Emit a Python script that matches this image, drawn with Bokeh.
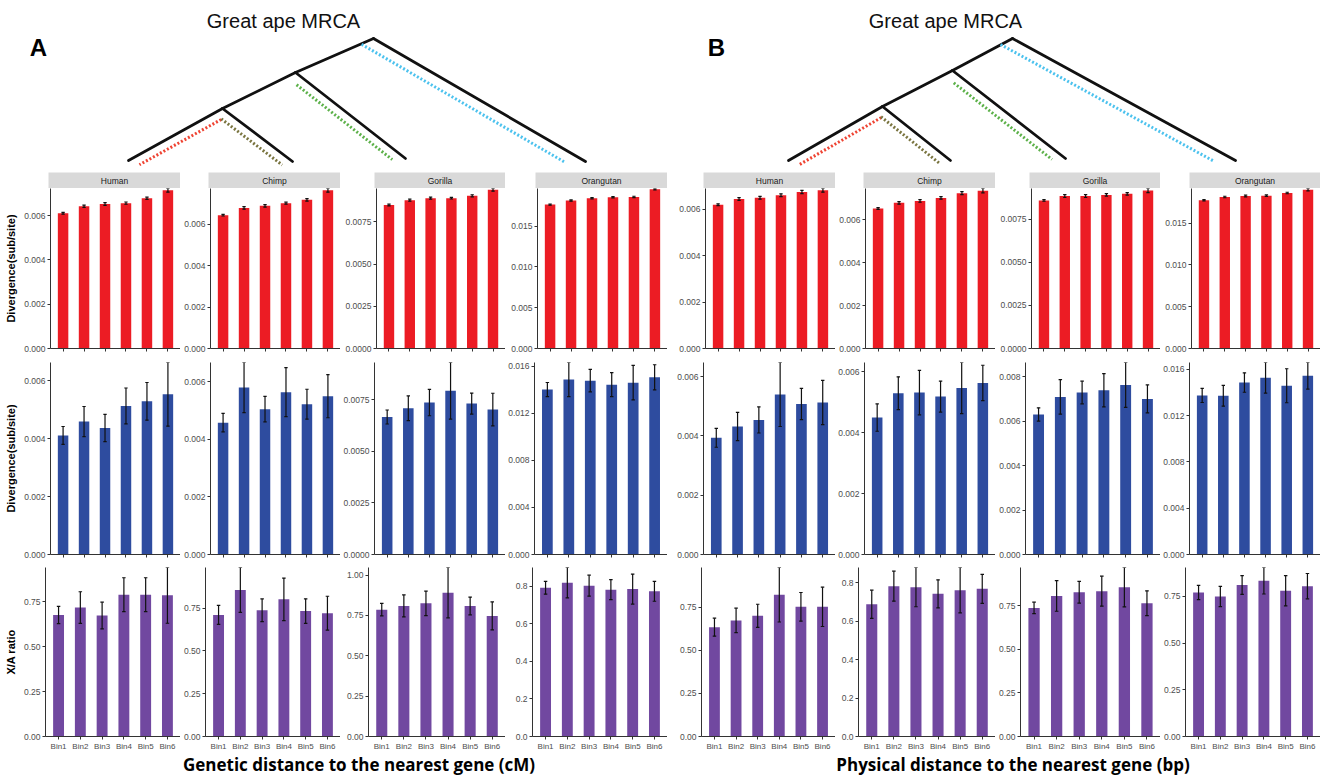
from bokeh.plotting import figure
from bokeh.layouts import column, row
from bokeh.models import Range1d, FixedTicker, PrintfTickFormatter, ColumnDataSource
from bokeh.core.properties import value
from bokeh.embed import file_html
from bokeh.resources import INLINE

# ---------------- data ----------------
bins = ["Bin1", "Bin2", "Bin3", "Bin4", "Bin5", "Bin6"]
species = ["Human", "Chimp", "Gorilla", "Orangutan"]

# Panel A (genetic distance, cM)
a_div_total = [
    [0.00610, 0.00642, 0.00652, 0.00656, 0.00678, 0.00714],
    [0.00645, 0.00680, 0.00690, 0.00703, 0.00719, 0.00765],
    [0.00849, 0.00878, 0.00890, 0.00890, 0.00904, 0.00939],
    [0.01765, 0.01814, 0.01843, 0.01855, 0.01859, 0.01953],
]
a_div_total_err = [
    [0.00004, 0.00005, 0.00006, 0.00005, 0.00005, 0.00008],
    [0.00004, 0.00006, 0.00006, 0.00005, 0.00006, 0.00009],
    [0.00005, 0.00006, 0.00006, 0.00005, 0.00006, 0.00008],
    [0.00007, 0.00008, 0.00008, 0.00008, 0.00008, 0.00009],
]
a_div_x = [
    [0.00411, 0.00459, 0.00437, 0.00513, 0.00529, 0.00553],
    [0.00458, 0.00580, 0.00505, 0.00564, 0.00522, 0.00550],
    [0.00666, 0.00708, 0.00736, 0.00793, 0.00731, 0.00702],
    [0.01400, 0.01485, 0.01476, 0.01442, 0.01459, 0.01504],
]
a_div_x_err = [
    [0.00031, 0.00052, 0.00047, 0.00062, 0.00065, 0.00110],
    [0.00032, 0.00087, 0.00044, 0.00085, 0.00052, 0.00075],
    [0.00034, 0.00060, 0.00064, 0.00137, 0.00051, 0.00079],
    [0.00060, 0.00145, 0.00096, 0.00102, 0.00147, 0.00107],
]
a_xa_ratio = [
    [0.676, 0.717, 0.673, 0.789, 0.789, 0.785],
    [0.711, 0.857, 0.738, 0.802, 0.733, 0.721],
    [0.786, 0.809, 0.825, 0.891, 0.809, 0.747],
    [0.793, 0.820, 0.804, 0.783, 0.786, 0.774],
]
a_xa_ratio_err = [
    [0.048, 0.088, 0.074, 0.094, 0.094, 0.155],
    [0.055, 0.131, 0.066, 0.124, 0.072, 0.099],
    [0.039, 0.068, 0.076, 0.156, 0.055, 0.087],
    [0.034, 0.081, 0.056, 0.053, 0.080, 0.053],
]

# Panel B (physical distance, bp)
b_div_total = [
    [0.00619, 0.00644, 0.00649, 0.00660, 0.00674, 0.00681],
    [0.00653, 0.00679, 0.00688, 0.00702, 0.00724, 0.00736],
    [0.00858, 0.00883, 0.00883, 0.00890, 0.00896, 0.00915],
    [0.01774, 0.01813, 0.01825, 0.01829, 0.01861, 0.01901],
]
b_div_total_err = [
    [0.00004, 0.00006, 0.00006, 0.00006, 0.00007, 0.00008],
    [0.00004, 0.00006, 0.00006, 0.00006, 0.00007, 0.00010],
    [0.00005, 0.00008, 0.00008, 0.00007, 0.00007, 0.00012],
    [0.00008, 0.00009, 0.00010, 0.00009, 0.00009, 0.00014],
]
b_div_x = [
    [0.00394, 0.00432, 0.00454, 0.00540, 0.00508, 0.00513],
    [0.00450, 0.00530, 0.00532, 0.00519, 0.00547, 0.00564],
    [0.00631, 0.00710, 0.00730, 0.00740, 0.00764, 0.00701],
    [0.01375, 0.01372, 0.01487, 0.01528, 0.01459, 0.01545],
]
b_div_x_err = [
    [0.00032, 0.00048, 0.00044, 0.00108, 0.00053, 0.00075],
    [0.00045, 0.00054, 0.00073, 0.00051, 0.00084, 0.00058],
    [0.00030, 0.00078, 0.00051, 0.00075, 0.00101, 0.00063],
    [0.00061, 0.00090, 0.00084, 0.00132, 0.00147, 0.00115],
]
b_xa_ratio = [
    [0.634, 0.673, 0.700, 0.822, 0.752, 0.752],
    [0.687, 0.781, 0.776, 0.741, 0.760, 0.767],
    [0.738, 0.807, 0.828, 0.834, 0.857, 0.765],
    [0.771, 0.750, 0.811, 0.834, 0.780, 0.805],
]
b_xa_ratio_err = [
    [0.052, 0.071, 0.067, 0.158, 0.083, 0.114],
    [0.073, 0.078, 0.102, 0.073, 0.118, 0.075],
    [0.033, 0.088, 0.062, 0.086, 0.113, 0.071],
    [0.038, 0.054, 0.050, 0.071, 0.081, 0.068],
]

# y tick values and decimals
t_div6 = [0, 0.002, 0.004, 0.006]
t_div75 = [0, 0.0025, 0.005, 0.0075]
t_div15 = [0, 0.005, 0.010, 0.015]
t_div16 = [0, 0.004, 0.008, 0.012, 0.016]
t_div8 = [0, 0.002, 0.004, 0.006, 0.008]
t_r75 = [0, 0.25, 0.50, 0.75]
t_r100 = [0, 0.25, 0.50, 0.75, 1.00]
t_r8 = [0, 0.2, 0.4, 0.6, 0.8]

a_total_ticks = [(t_div6, 3), (t_div6, 3), (t_div75, 4), (t_div15, 3)]
a_x_ticks = [(t_div6, 3), (t_div6, 3), (t_div75, 4), (t_div16, 3)]
a_ratio_ticks = [(t_r75, 2), (t_r75, 2), (t_r100, 2), (t_r8, 1)]
b_total_ticks = [(t_div6, 3), (t_div6, 3), (t_div75, 4), (t_div15, 3)]
b_x_ticks = [(t_div6, 3), (t_div6, 3), (t_div8, 3), (t_div16, 3)]
b_ratio_ticks = [(t_r75, 2), (t_r8, 1), (t_r75, 2), (t_r75, 2)]

y_titles = ["Divergence(sub/site)", "Divergence(sub/site)", "X/A ratio"]
x_titles = ["Genetic distance to the nearest gene (cM)",
            "Physical distance to the nearest gene (bp)"]
tree_title = "Great ape MRCA"
panel_letters = ["A", "B"]

# ---------------- styling / layout ----------------
RED = "#EC1C24"
BLUE = "#2E4C9F"
PURPLE = "#7148A0"
lineage_colors = {"Human": "#EF4433", "Chimp": "#7A7540",
                  "Gorilla": "#5DB14A", "Orangutan": "#4CC2EE"}
TICK_FONT = "Liberation Sans"
W = 1320
slot_w = [180, 160, 165, 162, 168, 160, 165, 160]
frame_left = [
    [50, 30, 36, 32, 38, 30, 36, 31],
    [50, 30, 33, 28, 36, 29, 30, 26],
    [45, 25, 28, 27, 34, 23, 25, 22],
]
row_geom = [(0, 160, 7), (7, 192, 6), (7, 170, 16)]  # top border, frame height, bottom border
TREE_H = 172
STRIP_H = 16
LABEL_H = 22


def style_axes(p):
    for ax in (p.xaxis[0], p.yaxis[0]):
        ax.axis_line_color = "#333333"
        ax.axis_line_width = 1
        ax.major_tick_line_color = "#333333"
        ax.major_tick_line_width = 1
        ax.major_tick_out = 3
        ax.major_tick_in = 0
        ax.minor_tick_line_color = None
        ax.major_label_text_font = TICK_FONT
        ax.major_label_text_font_size = "8.5px"
        ax.major_label_text_color = "#4D4D4D"
        ax.major_label_standoff = 2


def make_panel(vals, errs, tickinfo, color, r, c, show_bins, ytitle):
    top_b, fh, bot_b = row_geom[r]
    ymax = max(v + e for v, e in zip(vals, errs))
    p = figure(width=slot_w[c], height=top_b + fh + bot_b,
               x_range=Range1d(0.4, 6.6), y_range=Range1d(0, ymax),
               min_border_left=frame_left[r][c], min_border_right=0,
               min_border_top=top_b, min_border_bottom=bot_b,
               output_backend="svg", toolbar_location=None)
    p.outline_line_color = None
    p.grid.grid_line_color = None
    xs = list(range(1, len(vals) + 1))
    src = ColumnDataSource(dict(
        x=xs, val=vals,
        lo=[v - e for v, e in zip(vals, errs)],
        hi=[v + e for v, e in zip(vals, errs)],
        c0=[x - 0.08 for x in xs], c1=[x + 0.08 for x in xs]))
    p.vbar(x="x", top="val", bottom=0, width=0.5, source=src,
           fill_color=color, line_color=None)
    for a0, b0, a1, b1 in (("x", "lo", "x", "hi"), ("c0", "hi", "c1", "hi"), ("c0", "lo", "c1", "lo")):
        p.segment(x0=a0, y0=b0, x1=a1, y1=b1, source=src,
                  line_color="#111111", line_width=1.2)
    style_axes(p)
    ticks, dec = tickinfo
    p.yaxis.ticker = FixedTicker(ticks=ticks)
    p.yaxis.formatter = PrintfTickFormatter(format="%." + str(dec) + "f")
    p.xaxis.ticker = FixedTicker(ticks=xs)
    if show_bins:
        p.xaxis.major_label_overrides = {x: b for x, b in zip(xs, bins)}
        p.xaxis.major_label_text_font_size = "8px"
    else:
        p.xaxis.major_label_text_font_size = "1px"
        p.xaxis.major_label_text_color = None
        p.xaxis.major_label_standoff = 0
    if ytitle:
        p.yaxis.axis_label = ytitle
        p.yaxis.axis_label_text_font = TICK_FONT
        p.yaxis.axis_label_text_font_style = "bold"
        p.yaxis.axis_label_text_font_size = "11px"
        p.yaxis.axis_label_text_color = "#000000"
        p.yaxis.axis_label_standoff = 4
    return p


def make_strip(name, c):
    p = figure(width=slot_w[c], height=STRIP_H, x_range=Range1d(0, 1), y_range=Range1d(0, 1),
               min_border_left=frame_left[0][c] - 2, min_border_right=0,
               min_border_top=0, min_border_bottom=0,
               x_axis_location=None, y_axis_location=None,
               output_backend="svg", toolbar_location=None)
    p.outline_line_color = None
    p.grid.grid_line_color = None
    p.background_fill_color = "#D9D9D9"
    p.border_fill_color = "white"
    p.text(x=[0.5], y=[0.5], text=[name], text_align="center", text_baseline="middle",
           text_font=value(TICK_FONT), text_font_size="8.5px", text_color="#1A1A1A")
    return p


# ---------------- tree (schematic phylogeny, page pixel coords) ----------------
tree_edges = [("root", "n2"), ("root", "Orangutan"), ("n2", "n3"),
              ("n2", "Gorilla"), ("n3", "Human"), ("n3", "Chimp")]
tree_nodes_A = {"root": (373, 38), "n2": (295, 72), "n3": (222, 108),
                "Human": (128, 160), "Chimp": (292, 161),
                "Gorilla": (405, 158), "Orangutan": (585, 161)}
tree_nodes_B = {"root": (1012, 38), "n2": (952, 70), "n3": (882, 106),
                "Human": (788, 160), "Chimp": (950, 160),
                "Gorilla": (1065, 158), "Orangutan": (1235, 160)}
tree_title_pos = [(283, 20), (945, 20)]
letter_pos = [(38, 47), (716, 47)]

tree = figure(width=W, height=TREE_H, x_range=Range1d(0, W), y_range=Range1d(TREE_H, 0),
              min_border_left=0, min_border_right=0, min_border_top=0, min_border_bottom=0,
              x_axis_location=None, y_axis_location=None,
              output_backend="svg", toolbar_location=None)
tree.outline_line_color = None
tree.grid.grid_line_color = None


def offset_seg(p0, p1, off, t0, t1):
    dx, dy = p1[0] - p0[0], p1[1] - p0[1]
    L = (dx * dx + dy * dy) ** 0.5
    if dx > 0:
        nx, ny = -dy / L, dx / L
    else:
        nx, ny = dy / L, -dx / L
    a = (p0[0] + dx * t0 + nx * off, p0[1] + dy * t0 + ny * off)
    b = (p0[0] + dx * t1 + nx * off, p0[1] + dy * t1 + ny * off)
    return a, b


for nodes in (tree_nodes_A, tree_nodes_B):
    x0 = [nodes[a][0] for a, b in tree_edges]
    y0 = [nodes[a][1] for a, b in tree_edges]
    x1 = [nodes[b][0] for a, b in tree_edges]
    y1 = [nodes[b][1] for a, b in tree_edges]
    tree.segment(x0=x0, y0=y0, x1=x1, y1=y1, line_color="#111111", line_width=2.8,
                 line_cap="round")
    for a, b in tree_edges:
        if b in lineage_colors:
            off = 11 if b == "Orangutan" else 9
            t0 = -0.03 if b == "Orangutan" else 0.06
            pa, pb = offset_seg(nodes[a], nodes[b], off, t0, 0.93)
            tree.line(x=[pa[0], pb[0]], y=[pa[1], pb[1]], line_color=lineage_colors[b],
                      line_width=3, line_dash="2 2", line_cap="butt")

tree.text(x=[p[0] for p in tree_title_pos], y=[p[1] for p in tree_title_pos],
          text=[tree_title, tree_title], text_align="center", text_baseline="middle",
          text_font=value(TICK_FONT), text_font_size="20px", text_color="#111111")
tree.text(x=[p[0] for p in letter_pos], y=[p[1] for p in letter_pos],
          text=panel_letters, text_align="center", text_baseline="middle",
          text_font=value(TICK_FONT), text_font_size="24px", text_font_style="bold",
          text_color="#000000")

# ---------------- panels ----------------
strips = row(*[make_strip(species[i % 4], i) for i in range(8)])

row_data = [
    (a_div_total, a_div_total_err, a_total_ticks, b_div_total, b_div_total_err, b_total_ticks, RED),
    (a_div_x, a_div_x_err, a_x_ticks, b_div_x, b_div_x_err, b_x_ticks, BLUE),
    (a_xa_ratio, a_xa_ratio_err, a_ratio_ticks, b_xa_ratio, b_xa_ratio_err, b_ratio_ticks, PURPLE),
]
rows = []
for r, (av, ae, at, bv, be, bt, col) in enumerate(row_data):
    figs = []
    for c in range(8):
        if c < 4:
            vals, errs, tk = av[c], ae[c], at[c]
        else:
            vals, errs, tk = bv[c - 4], be[c - 4], bt[c - 4]
        figs.append(make_panel(vals, errs, tk, col, r, c, r == 2,
                               y_titles[r] if c == 0 else None))
    rows.append(row(*figs))

# bottom x titles, centered under each group of frames
starts = [sum(slot_w[:c]) for c in range(8)]
cA = (starts[0] + frame_left[0][0] + starts[4]) / 2
cB = (starts[4] + frame_left[0][4] + W) / 2
lab = figure(width=W, height=LABEL_H, x_range=Range1d(0, W), y_range=Range1d(0, 1),
             min_border_left=0, min_border_right=0, min_border_top=0, min_border_bottom=0,
             x_axis_location=None, y_axis_location=None,
             output_backend="svg", toolbar_location=None)
lab.outline_line_color = None
lab.grid.grid_line_color = None
lab.text(x=[cA, cB], y=[0.5, 0.5], text=x_titles, text_align="center",
         text_baseline="middle", text_font=value("Open Sans"), text_font_size="17px",
         text_font_style="bold", text_color="#000000")

layout = column(tree, strips, rows[0], rows[1], rows[2], lab)
open("out.html", "w").write(file_html(layout, INLINE))
